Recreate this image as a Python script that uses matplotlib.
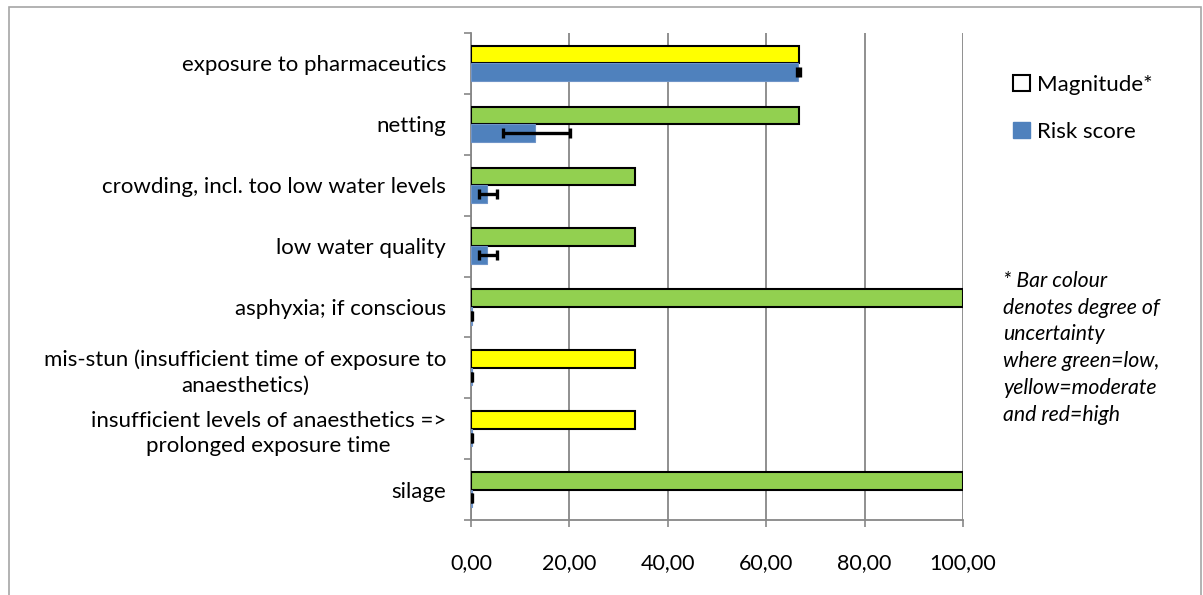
import matplotlib.pyplot as plt
from matplotlib.patches import Patch, Rectangle
import numpy as np

plt.rcParams['font.family'] = ['Lato', 'DejaVu Sans']

categories = [
    'exposure to pharmaceutics',
    'netting',
    'crowding, incl. too low water levels',
    'low water quality',
    'asphyxia; if conscious',
    'mis-stun (insufficient time of exposure to\nanaesthetics)',
    'insufficient levels of anaesthetics =>\nprolonged exposure time',
    'silage',
]
magnitude = [66.7, 66.7, 33.3, 33.3, 100.0, 33.3, 33.3, 100.0]
uncertainty = ['moderate', 'low', 'low', 'low', 'low', 'moderate', 'moderate', 'low']
risk_score = [66.5, 13.0, 3.2, 3.2, 0.2, 0.2, 0.2, 0.2]
risk_low = [66.3, 6.6, 1.6, 1.6, 0.1, 0.1, 0.1, 0.1]
risk_high = [66.9, 20.1, 5.2, 5.2, 0.3, 0.3, 0.3, 0.3]
xticks = [0, 20, 40, 60, 80, 100]

unc_colours = {'low': '#92D050', 'moderate': '#FFFF00', 'high': '#FF0000'}
grey = '#878787'

fig = plt.figure(figsize=(12.03, 5.95), dpi=100)
ax = fig.add_axes([471 / 1203, 1 - 520 / 595, (963 - 471) / 1203, (520 - 33) / 595])

y = np.arange(len(categories))
h = 0.29

ax.barh(y - h / 2, magnitude, height=h, color=[unc_colours[u] for u in uncertainty],
        edgecolor='black', linewidth=1.5, zorder=3)
ax.barh(y + h / 2, risk_score, height=h, color='#4F81BD', edgecolor='#6F94C8',
        linewidth=0.8, zorder=3)

err = [np.array(risk_score) - np.array(risk_low), np.array(risk_high) - np.array(risk_score)]
ax.errorbar(risk_score, y + h / 2, xerr=err, fmt='none', ecolor='black',
            elinewidth=2.4, capsize=3.8, capthick=2.4, zorder=4)

ax.set_xlim(0, 100)
ax.set_ylim(len(categories) - 0.5, -0.5)

ax.set_xticks(xticks)
ax.set_xticklabels([f'{v:.2f}'.replace('.', ',') for v in xticks], fontsize=15.5)
ax.set_yticks(y)
ax.set_yticklabels(categories, fontsize=16)
for lab in ax.get_yticklabels():
    lab.set_multialignment('center')
    lab.set_linespacing(1.35)
ax.set_yticks(np.arange(-0.5, len(categories)), minor=True)

ax.tick_params(axis='y', which='major', length=0, pad=18)
ax.tick_params(axis='y', which='minor', length=5, width=1.2, color=grey, direction='out')
ax.tick_params(axis='x', which='major', length=5, width=1.2, color=grey, pad=19)

ax.grid(axis='x', color=grey, linewidth=1.3, zorder=0)
ax.set_axisbelow(True)
for side in ('top', 'right'):
    ax.spines[side].set_visible(False)
for side in ('left', 'bottom'):
    ax.spines[side].set_color(grey)
    ax.spines[side].set_linewidth(1.3)

handles = [
    Patch(facecolor='white', edgecolor='black', linewidth=1.5, label='Magnitude*'),
    Patch(facecolor='#4F81BD', edgecolor='#4F81BD', label='Risk score'),
]
fig.legend(handles=handles, loc='upper left', bbox_to_anchor=(993 / 1203, 1 - 55 / 595),
           frameon=False, fontsize=16, handlelength=0.75, handleheight=0.75,
           handletextpad=0.35, labelspacing=1.2)

fig.text(1003 / 1203, 1 - 271 / 595,
         '* Bar colour\ndenotes degree of\nuncertainty\nwhere green=low,\nyellow=moderate\nand red=high',
         fontsize=15.3, style='italic', ha='left', va='top', linespacing=1.42)

fig.patches.append(Rectangle((9 / 1203, -0.02), (1201 - 9) / 1203, 1.02 - 7 / 595,
                             transform=fig.transFigure, fill=False,
                             edgecolor='#a6a6a6', linewidth=1.2))

fig.savefig('out.png', dpi=100)
